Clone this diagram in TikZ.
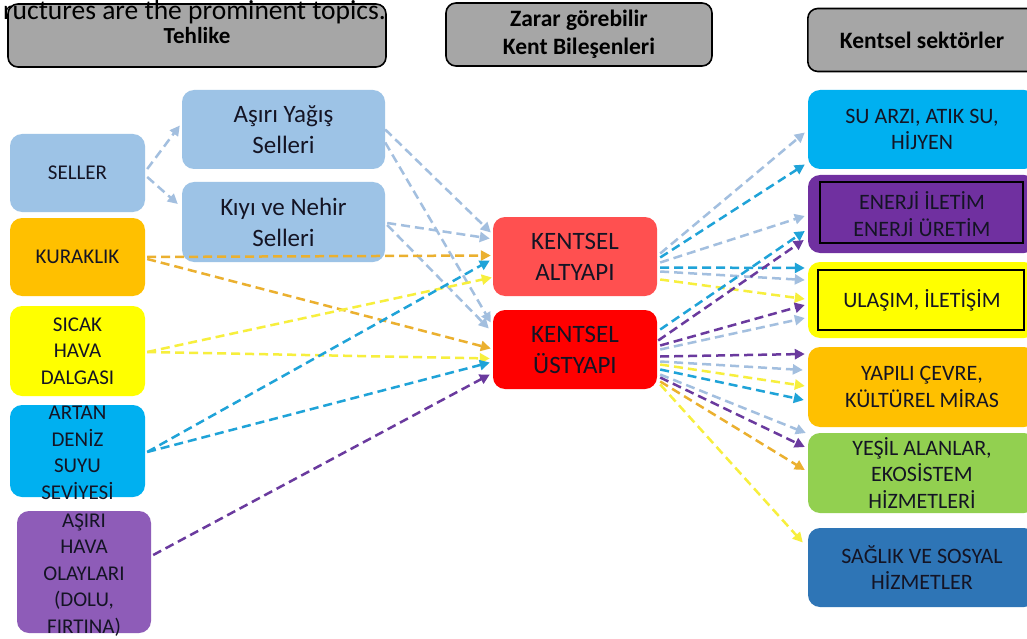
\documentclass[tikz,border=0pt]{standalone}
\usepackage{fontspec}
\setmainfont{Carlito}
\usetikzlibrary{arrows.meta}

% box fills
\definecolor{hdr}{HTML}{A6A6A6}
\definecolor{lblue}{HTML}{9DC3E6}
\definecolor{gold}{HTML}{FFC000}
\definecolor{yel}{HTML}{FFFF00}
\definecolor{cyanbox}{HTML}{00B0F0}
\definecolor{lilac}{HTML}{8E5CB8}
\definecolor{pinkred}{HTML}{FF5050}
\definecolor{purered}{HTML}{FF0000}
\definecolor{violet}{HTML}{7030A0}
\definecolor{lgreen}{HTML}{92D050}
\definecolor{steel}{HTML}{2E75B6}
\definecolor{txt}{HTML}{141424}
% connector colours
\definecolor{lnLb}{HTML}{A3BFDF}
\definecolor{lnCy}{HTML}{1FA3D8}
\definecolor{lnOr}{HTML}{EBB02F}
\definecolor{lnYe}{HTML}{F7EF3D}
\definecolor{lnPu}{HTML}{6A3A9E}

\begin{document}
\begin{tikzpicture}[x=1pt,y=-1pt,
  header/.style={draw=black, line width=1.6pt, fill=hdr, rounded corners=10pt,
    inner sep=0pt, align=center, text=black,
    font=\fontsize{23.5}{28}\selectfont\bfseries},
  box/.style={rounded corners=12pt, inner sep=0pt, align=center, text=txt},
  small/.style={font=\fontsize{21}{26.5}\selectfont},
  right/.style={font=\fontsize{22}{26.5}\selectfont},
  big/.style={font=\fontsize{25}{31}\selectfont},
  lbl/.style={inner sep=0pt, align=center, text=txt, font=\fontsize{21}{26.5}\selectfont},
  conn/.style={line width=2.5pt, dash pattern=on 9pt off 5pt,
    -{Triangle[length=10pt,width=10pt]}},
]
\useasboundingbox (0,0) rectangle (1027,639);
\fill[white] (0,0) rectangle (1027,639);

% ---------- column headers ----------
\node[header, minimum width=378, minimum height=63, font=\fontsize{23}{27}\selectfont\bfseries]
  (tehlike) at (197,35.5) {Tehlike};
\node[header, minimum width=266, minimum height=63] (zarar) at (579,34.5)
  {Zarar görebilir\\Kent Bileşenleri};
\node[header, minimum width=240, minimum height=63, anchor=west] (sektor) at (807,40) {};
\node[inner sep=0pt, font=\fontsize{23.5}{28}\selectfont\bfseries] (sektortext) at (922,40) {Kentsel sektörler};
\node[inner sep=0pt, anchor=base east, font=\fontsize{27.5}{33}\selectfont] (caption)
  at (386,20) {ructures are the prominent topics.};

% ---------- hazards ----------
\node[box, small, fill=lblue, minimum width=135, minimum height=78] (seller) at (77.5,173) {SELLER};
\node[box, small, fill=gold, minimum width=135, minimum height=78] (kurak) at (77.5,257) {KURAKLIK};
\node[box, small, fill=yel, minimum width=135, minimum height=90] (sicak) at (77.5,351)
  {SICAK\\HAVA\\DALGASI};
\node[box, fill=cyanbox, minimum width=135, minimum height=92] (artan) at (77.5,451) {};
\node[lbl] (artantext) at (77.5,453) {ARTAN\\DENİZ\\SUYU\\SEVİYESİ};
\node[box, fill=lilac, minimum width=134, minimum height=122] (asiri) at (84,572) {};
\node[lbl] (asiritext) at (84,575) {AŞIRI\\HAVA\\OLAYLARI\\(DOLU,\\FIRTINA)};

\node[box, big, fill=lblue, minimum width=203, minimum height=79] (yagis) at (283.5,129.5)
  {Aşırı Yağış\\Selleri};
\node[box, big, fill=lblue, minimum width=203, minimum height=80] (kiyi) at (283.5,222)
  {Kıyı ve Nehir\\Selleri};

% ---------- vulnerable components ----------
\node[box, big, fill=pinkred, minimum width=164, minimum height=79] (altyapi) at (575,256.5)
  {KENTSEL\\ALTYAPI};
\node[box, big, fill=purered, minimum width=164, minimum height=79] (ustyapi) at (575,349.5)
  {KENTSEL\\ÜSTYAPI};

% ---------- urban sectors ----------
\node[box, right, fill=cyanbox, minimum width=228, minimum height=79] (suarzi) at (922,129.5)
  {SU ARZI, ATIK SU,\\HİJYEN};
\node[box, right, fill=violet, minimum width=228, minimum height=78] (enerji) at (922,214)
  {ENERJİ İLETİM\\ENERJİ ÜRETİM};
\node[box, right, fill=yel, minimum width=228, minimum height=76] (ulasim) at (922,300)
  {ULAŞIM, İLETİŞİM};
\node[box, right, fill=gold, minimum width=228, minimum height=80] (yapili) at (922,387)
  {YAPILI ÇEVRE,\\KÜLTÜREL MİRAS};
\node[box, right, fill=lgreen, minimum width=228, minimum height=80] (yesil) at (922,473)
  {YEŞİL ALANLAR,\\EKOSİSTEM\\HİZMETLERİ};
\node[box, right, fill=steel, minimum width=228, minimum height=79] (saglik) at (922,567.5)
  {SAĞLIK VE SOSYAL\\HİZMETLER};

% inner frames
\draw[line width=1.8pt] ([shift={(12,7)}]enerji.north west) rectangle ([shift={(-13,-10)}]enerji.south east);
\draw[line width=1.8pt] ([shift={(10,8)}]ulasim.north west) rectangle ([shift={(-12,-8)}]ulasim.south east);

% ---------- hazard -> sub-hazard ----------
\draw[conn, lnLb] ([shift={(2,-4)}]seller.east) -- ([shift={(-2,-4)}]yagis.west);
\draw[conn, lnLb] ([shift={(2,4)}]seller.east) -- ([shift={(-4,-18)}]kiyi.west);

% ---------- hazards -> components ----------
\draw[conn, lnLb] (yagis.east) -- ([shift={(-2,-24)}]altyapi.west);
\draw[conn, lnLb] ([shift={(0,13)}]yagis.east) -- ([shift={(-2,-27)}]ustyapi.west);
\draw[conn, lnLb] ([shift={(2,1)}]kiyi.east) -- ([shift={(-3,-18)}]altyapi.west);
\draw[conn, lnLb] ([shift={(2,3)}]kiyi.east) -- ([shift={(-4,-21)}]ustyapi.west);
\draw[conn, lnOr] ([shift={(2,0)}]kurak.east) -- ([shift={(-2,-1)}]altyapi.west);
\draw[conn, lnOr] ([shift={(2,2)}]kurak.east) -- ([shift={(-2,-1)}]ustyapi.west);
\draw[conn, lnYe] ([shift={(2,1)}]sicak.east) -- ([shift={(-1,21)}]altyapi.west);
\draw[conn, lnYe] ([shift={(2,1)}]sicak.east) -- ([shift={(-3,9)}]ustyapi.west);
\draw[conn, lnCy] ([shift={(2,1)}]artan.east) -- ([shift={(-3,4)}]altyapi.west);
\draw[conn, lnCy] ([shift={(2,1)}]artan.east) -- ([shift={(-3,13)}]ustyapi.west);
\draw[conn, lnPu] ([shift={(2,-17)}]asiri.east) -- ([shift={(-3,25)}]ustyapi.west);

% ---------- infrastructure -> sectors ----------
\draw[conn, lnLb] ([shift={(3,-3)}]altyapi.east) -- ([shift={(-3,3)}]suarzi.west);
\draw[conn, lnCy] ([shift={(3,1)}]altyapi.east) -- ([shift={(-3,35)}]suarzi.west);
\draw[conn, lnLb] ([shift={(3,6)}]altyapi.east) -- ([shift={(-3,2)}]enerji.west);
\draw[conn, lnCy] ([shift={(3,11)}]altyapi.east) -- ([shift={(-3,-32)}]ulasim.west);
\draw[conn, lnLb] ([shift={(3,15)}]altyapi.east) -- ([shift={(-3,-20)}]ulasim.west);
\draw[conn, lnYe] ([shift={(3,23)}]altyapi.east) -- ([shift={(-3,-1)}]ulasim.west);

% ---------- superstructure -> sectors ----------
\draw[conn, lnCy] ([shift={(3,-20)}]ustyapi.east) -- ([shift={(-3,17)}]enerji.west);
\draw[conn, lnPu] ([shift={(1,-9)}]ustyapi.east) -- ([shift={(-4,26)}]enerji.west);
\draw[conn, lnPu] ([shift={(3,-4)}]ustyapi.east) -- ([shift={(-3,5)}]ulasim.west);
\draw[conn, lnLb] ([shift={(3,0)}]ustyapi.east) -- ([shift={(-3,18)}]ulasim.west);
\draw[conn, lnPu] ([shift={(3,7)}]ustyapi.east) -- ([shift={(-3,-33)}]yapili.west);
\draw[conn, lnLb] ([shift={(3,12)}]ustyapi.east) -- ([shift={(-5,-17)}]yapili.west);
\draw[conn, lnYe] ([shift={(3,15)}]ustyapi.east) -- ([shift={(-3,-1)}]yapili.west);
\draw[conn, lnCy] ([shift={(3,20)}]ustyapi.east) -- ([shift={(-4,13)}]yapili.west);
\draw[conn, lnLb] ([shift={(3,25)}]ustyapi.east) -- ([shift={(-2,-40)}]yesil.west);
\draw[conn, lnPu] ([shift={(3,28)}]ustyapi.east) -- ([shift={(-3,-26)}]yesil.west);
\draw[conn, lnOr] ([shift={(3,32)}]ustyapi.east) -- ([shift={(-3,-3)}]yesil.west);
\draw[conn, lnYe] ([shift={(3,35)}]ustyapi.east) -- ([shift={(-5,-25)}]saglik.west);
\end{tikzpicture}
\end{document}
